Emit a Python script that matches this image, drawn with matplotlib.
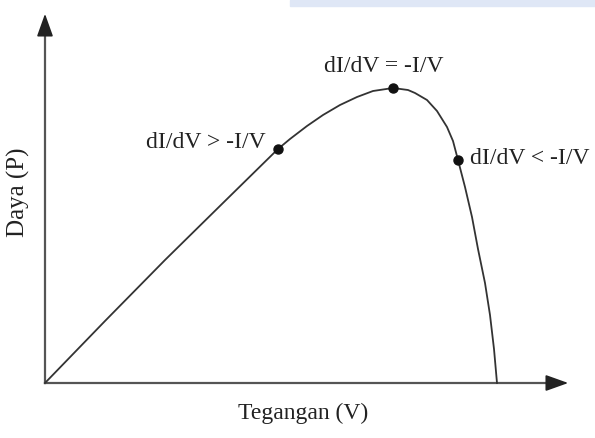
import matplotlib.pyplot as plt
from matplotlib.patches import Rectangle

# P-V curve (arbitrary units, origin at the axis corner)
voltage = [0, 60, 120, 180, 233, 245, 262, 278, 295, 312, 328, 348,
           363, 370, 382, 392, 402, 408, 413, 420, 427, 433, 440, 445,
           449, 452]
power = [0, 62, 123, 182, 234, 244, 257, 268, 278, 286, 292, 295,
         293, 290, 283, 272, 256, 242, 223, 196, 166, 134, 100, 68,
         34, 0]

# marked operating points and their labels
mark_v = [233, 348, 413]
mark_p = [234, 295, 223]
mark_text = ["dI/dV > -I/V", "dI/dV = -I/V", "dI/dV < -I/V"]

plt.rcParams['font.family'] = ['Liberation Serif', 'DejaVu Serif']

fig = plt.figure(figsize=(5.95, 4.38), dpi=100)
ax = fig.add_axes([0, 0, 1, 1])
ax.set_xlim(-45, 550)
ax.set_ylim(-55, 383)
ax.axis('off')

# faint scan band along the top edge
fig.patches.append(Rectangle((290 / 595, 1 - 6 / 438), 305 / 595, 6 / 438,
                             transform=fig.transFigure, color='#dfe7f6', zorder=0))

# axes with arrow heads
ax.plot([0, 510], [0, 0], color='#555555', lw=1.6)
ax.plot([0, 0], [0, 355], color='#555555', lw=1.6)
ax.annotate('', xy=(526, 0), xytext=(505, 0),
            arrowprops=dict(arrowstyle='-|>,head_length=1.4,head_width=0.5',
                            color='#222222', lw=1.2))
ax.annotate('', xy=(0, 372), xytext=(0, 350),
            arrowprops=dict(arrowstyle='-|>,head_length=1.4,head_width=0.5',
                            color='#222222', lw=1.2))

# curve and points
ax.plot(voltage, power, color='#333333', lw=1.3, solid_joinstyle='round')
ax.plot(mark_v, mark_p, 'o', color='#111111', markersize=6.5)

ax.text(mark_v[0] - 12, mark_p[0] + 6, mark_text[0], ha='right', va='center',
        fontsize=17, color='#222222')
ax.text(mark_v[1] - 9, mark_p[1] + 21, mark_text[1], ha='center', va='center',
        fontsize=17, color='#222222')
ax.text(mark_v[2] + 12, mark_p[2] + 1, mark_text[2], ha='left', va='center',
        fontsize=17, color='#222222')

ax.text(-27, 191, 'Daya (P)', rotation=90, ha='center', va='center',
        fontsize=18, color='#222222')
ax.text(258, -30, 'Tegangan (V)', ha='center', va='center',
        fontsize=17, color='#222222')

plt.savefig('out.png', dpi=100)
